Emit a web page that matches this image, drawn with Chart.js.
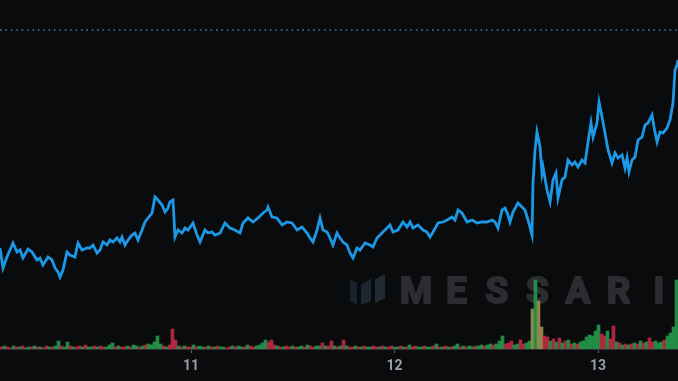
<!DOCTYPE html>
<html><head><meta charset="utf-8">
<script src="https://cdn.jsdelivr.net/npm/chart.js@4"></script>
<style>html,body{margin:0;padding:0;background:#0a0b0d;}#wrap{width:678px;height:381px;}</style>
</head><body><div id="wrap"><canvas id="c"></canvas></div>
<script>
// hours since 10th 00:00
const priceHours = [1.47,1.82,2.29,2.65,3.00,3.47,3.83,4.18,4.77,5.24,5.83,6.19,6.54,7.13,7.60,7.96,8.31,8.55,8.90,9.37,9.72,10.31,10.67,11.14,11.73,12.08,12.44,12.91,13.26,13.62,14.09,14.44,14.80,15.27,15.62,15.86,16.21,16.56,17.04,17.39,17.74,18.22,18.57,18.92,19.40,19.75,20.10,20.58,20.93,21.28,21.52,21.87,22.11,22.46,22.93,23.29,23.64,24.23,24.70,25.06,25.64,26.00,26.47,26.83,27.42,28.00,28.59,29.18,29.77,30.13,30.72,31.31,31.90,32.49,32.96,33.08,33.55,34.14,34.73,35.32,35.91,36.50,37.09,37.68,38.03,38.38,38.86,39.21,39.56,40.04,40.39,40.74,41.21,41.57,41.92,42.39,42.75,43.10,43.57,43.93,44.52,45.11,45.46,45.93,46.52,47.11,47.46,47.82,48.41,49.00,49.47,49.83,50.18,50.77,51.36,51.83,52.18,52.54,53.13,53.72,54.19,54.78,55.13,55.49,55.96,56.55,57.14,57.73,58.32,58.91,59.49,59.85,60.20,60.67,61.03,61.38,61.62,61.97,62.56,63.03,63.38,63.74,64.21,64.33,64.57,64.80,65.16,65.39,65.51,65.98,66.34,66.69,67.04,67.28,67.75,68.10,68.46,68.93,69.28,69.64,70.11,70.46,70.82,71.17,71.41,71.88,72.12,72.47,72.82,73.18,73.65,74.00,74.36,74.83,75.18,75.42,75.65,76.01,76.36,76.72,77.19,77.54,77.89,78.37,78.60,78.96,79.31,79.66,80.13,80.49,80.84,81.08,81.31,81.43];
const prices = [1.01,0.81,0.92,0.99,1.06,0.97,0.99,0.91,1.00,0.97,0.89,0.91,0.84,0.92,0.89,0.81,0.77,0.72,0.79,0.97,0.94,0.92,1.06,0.99,1.01,1.01,1.04,0.96,0.99,1.07,1.04,1.09,1.07,1.11,1.07,1.12,1.04,1.09,1.14,1.16,1.09,1.19,1.27,1.31,1.36,1.52,1.49,1.44,1.37,1.41,1.47,1.49,1.12,1.19,1.16,1.21,1.19,1.26,1.14,1.07,1.19,1.16,1.17,1.14,1.16,1.26,1.21,1.19,1.16,1.26,1.31,1.27,1.31,1.36,1.39,1.42,1.32,1.31,1.24,1.27,1.26,1.19,1.22,1.16,1.11,1.07,1.19,1.31,1.19,1.17,1.11,1.04,1.16,1.11,1.07,1.04,0.96,0.91,1.01,0.99,1.06,1.04,1.02,1.11,1.16,1.21,1.24,1.17,1.19,1.27,1.22,1.27,1.21,1.24,1.19,1.17,1.12,1.17,1.26,1.27,1.29,1.32,1.29,1.39,1.36,1.27,1.29,1.26,1.27,1.27,1.29,1.27,1.21,1.39,1.41,1.34,1.27,1.37,1.46,1.42,1.39,1.29,1.14,1.66,1.99,2.17,2.02,1.76,1.82,1.59,1.47,1.69,1.76,1.51,1.69,1.72,1.89,1.84,1.87,1.82,1.89,1.86,2.07,2.26,2.12,2.26,2.47,2.32,2.16,1.99,1.86,1.96,1.91,1.94,1.81,1.91,1.77,1.89,1.92,2.09,2.12,2.24,2.26,2.34,2.22,2.07,2.17,2.16,2.21,2.29,2.46,2.79,2.84,2.89];
const refPrice = 3.19;

const volStartHour = 1.645;
const volStepHours = 0.3538;
const volumes = [
 2,3,2,1,3,2,2,3,1,2,
 2,3,2,2,1,3,2,2,3,8,
 3,2,7,3,2,2,3,2,4,2,
 2,3,2,3,2,2,4,6,2,3,
 2,2,3,2,4,3,2,3,4,5,
 4,7,13,5,3,2,4,20,9,3,
 2,3,2,2,4,2,3,2,2,3,
 2,2,3,2,2,1,2,3,2,3,
 2,2,4,3,2,3,4,6,9,7,
 9,4,3,2,2,3,2,3,2,2,
 3,2,4,3,2,3,3,6,3,3,
 8,3,2,3,9,3,2,2,3,2,
 2,3,2,2,3,2,2,3,2,2,
 3,2,2,3,2,2,4,2,3,2,
 2,3,2,2,3,5,2,2,3,2,
 2,3,5,2,3,2,3,2,3,3,
 4,3,4,5,4,5,8,13,5,6,
 8,4,5,9,5,6,8,40,69,48,
 22,13,12,8,10,7,11,6,8,9,
 5,6,5,7,8,12,14,13,18,24,
 15,13,18,10,23,7,6,4,5,4,
 5,6,5,8,6,7,11,7,8,6,
 7,9,13,16,22,69];
const volSide = ("rgrrgrgrgg"+"rgrgrrgrgg"+"rggrgrrgrg"+"grgrrgggrg"+"rrgrggrgrg"+
 "ggggrgrrrg"+"rgrrgrggrg"+"rgrggrrgrg"+"grgrrggggr"+"rrgrgrrgrg"+
 "grgrrggrgr"+"rgrgrgrrgr"+"grggrrgrgr"+"rggrgrgrrg"+"grggrgrgrg"+
 "rggrgrggrg"+"grggrgggrr"+"rggrrggmgm"+"mrrgrgrgrg"+"rgrggggggg"+
 "rrgrrgrgrg"+"rgrgrgrrgg"+"grgggg").split("");

const dayTickHours = [24, 48, 72];
const dayLabels = ["11", "12", "13"];

const sideColors = {g: "rgba(36,160,78,0.85)", r: "rgba(196,46,70,0.85)", m: "rgba(150,140,78,0.95)"};

const priceData = priceHours.map((h, i) => ({x: h, y: prices[i]}));
const volData = volumes.map((v, i) => ({x: volStartHour + volStepHours * i, y: v}));
const xMin = priceHours[0], xMax = priceHours[priceHours.length - 1];

const watermark = {
  id: 'watermark',
  beforeDatasetsDraw(chart) {
    const ctx = chart.ctx;
    ctx.save();
    ctx.fillStyle = '#1a232d';
    ctx.beginPath(); ctx.moveTo(350,279); ctx.lineTo(357,283); ctx.lineTo(357,305); ctx.lineTo(350,301); ctx.closePath(); ctx.fill();
    ctx.fillStyle = '#1d2731';
    ctx.beginPath(); ctx.moveTo(361,285); ctx.lineTo(371,279); ctx.lineTo(371,301); ctx.lineTo(361,305); ctx.closePath(); ctx.fill();
    ctx.fillStyle = '#202b36';
    ctx.beginPath(); ctx.moveTo(375,279); ctx.lineTo(385,274); ctx.lineTo(385,298); ctx.lineTo(375,303); ctx.closePath(); ctx.fill();
    ctx.fillStyle = '#2b2d31';
    ctx.strokeStyle = '#2b2d31';
    ctx.lineWidth = 2;
    ctx.lineJoin = 'round';
    ctx.font = 'bold 37px Roboto, "DejaVu Sans", sans-serif';
    ctx.textAlign = 'center';
    ctx.textBaseline = 'alphabetic';
    'MESSARI'.split('').forEach((ch, i) => { ctx.fillText(ch, 416 + i * 40.5, 303); ctx.strokeText(ch, 416 + i * 40.5, 303); });
    ctx.restore();
  }
};

new Chart(document.getElementById('c'), {
  data: {
    datasets: [
      {type: 'line', data: priceData, borderColor: '#1b98e6', borderWidth: 2.8, pointRadius: 0, tension: 0, yAxisID: 'y', order: 0},
      {type: 'line', data: [{x: xMin, y: refPrice}, {x: xMax, y: refPrice}], borderColor: '#2a7fc2', borderWidth: 1.5, borderDash: [1.6, 3.8], pointRadius: 0, yAxisID: 'y', order: 0},
      {type: 'bar', data: volData, backgroundColor: volSide.map(s => sideColors[s]), barThickness: 3, yAxisID: 'yv', order: 1}
    ]
  },
  options: {
    responsive: true, maintainAspectRatio: false, animation: false,
    layout: {padding: 0},
    plugins: {legend: {display: false}, tooltip: {enabled: false}},
    scales: {
      x: {
        type: 'linear', min: xMin, max: xMax, offset: false,
        afterBuildTicks: s => { s.ticks = dayTickHours.map(v => ({value: v})); },
        afterFit: s => { s.height = 32; },
        ticks: {color: '#9a9ea5', font: {family: 'Roboto, "Open Sans", sans-serif', size: 14, weight: 'bold'}, padding: 5,
          callback: v => { const k = dayTickHours.indexOf(v); return k >= 0 ? dayLabels[k] : ''; }},
        grid: {offset: false, drawOnChartArea: false, drawTicks: true, tickLength: 4, tickColor: '#5a5e64', color: '#5a5e64'},
        border: {display: true, color: '#2b2e33', width: 1}
      },
      y: {display: false, min: 0, max: 3.49},
      yv: {display: false, min: 0, max: 349}
    }
  },
  plugins: [watermark]
});
</script>
</body></html>
